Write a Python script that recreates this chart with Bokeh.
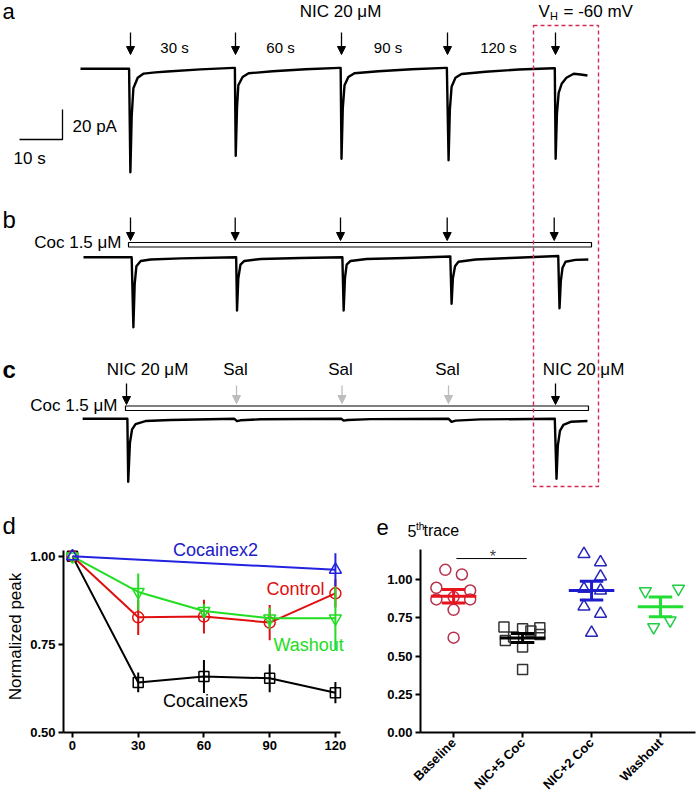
import math
import numpy as np
from bokeh.plotting import figure
from bokeh.models import Range1d, Arrow, NormalHead, Label, FixedTicker, NumeralTickFormatter
from bokeh.layouts import column, row
from bokeh.embed import file_html
from bokeh.resources import INLINE
from bokeh.core.properties import value

FONT = "Liberation Sans"

# ---------------- data: whole-cell traces (time s, current pA) ----------------
trace_a_t = [0.0, 11.3, 11.6, 11.9, 12.3, 13.3, 14.7, 17.4, 20.2, 27.9, 35.6,
             35.9, 36.1, 36.4, 36.7, 37.7, 39.1, 44.7, 52.3, 60.2,
             60.5, 60.7, 61.0, 61.4, 62.3, 63.7, 69.3, 77.0, 84.9,
             85.2, 85.6, 85.9, 86.3, 87.2, 88.6, 94.2, 101.9, 110.0,
             110.3, 110.5, 110.8, 111.2, 111.9, 113.0, 114.7, 116.3, 117.9]
trace_a_i = [0, 0, -69, -32, -13, -6, -3.2, -2.4, -1.8, -0.4, 0.6,
             0.6, -58, -26, -11, -5.5, -3, -1.6, -0.3, 0.6,
             0.6, -60, -26, -11, -5.5, -3, -1.6, -0.3, 0.6,
             0.6, -61, -27, -12, -6, -3.5, -2, -0.5, 0.4,
             0.4, -60, -30, -16, -10, -6, -3.3, -3.8, -4.5]

trace_b_t = [0.7, 11.9, 12.3, 12.6, 13.0, 14.0, 16.3, 23.3,
             36.2, 36.4, 36.7, 37.2, 38.1, 41.9, 51.2,
             60.9, 61.2, 61.5, 61.9, 62.8, 66.5, 75.6,
             86.0, 86.3, 86.6, 87.1, 87.9, 91.9, 100.0,
             111.1, 111.4, 111.7, 112.1, 112.8, 115.1, 118.1]
trace_b_i = [0, 0, -46.7, -18, -6, -2.5, -1.5, -0.8,
             0, -35.5, -14, -5, -2.5, -1.2, -0.5,
             0, -35.5, -14, -5, -2.5, -1.2, -0.5,
             0.5, -31, -14, -6, -3, -1.5, -0.5,
             0.8, -34, -16, -7, -3, -1.8, -1.5]

trace_c_t = [0.5, 10.9, 11.1, 11.5, 12.0, 12.8, 15.1, 20.9,
             35.8, 36.4, 37.2, 41.9,
             60.7, 61.2, 62.1, 67.4,
             85.6, 86.3, 87.2, 93.0,
             110.3, 110.7, 111.0, 111.5, 112.3, 114.0, 117.9]
trace_c_i = [0, 0, -42, -16, -7, -3.5, -1.5, -0.8,
             0, -1.5, -1.0, -0.3,
             0, -1.2, -0.8, -0.2,
             0, -2, -1.2, -0.4,
             0, -40, -18, -8, -4, -2, -1.5]

scale_time_s = 10
scale_current_pA = 20
interval_labels = ["30 s", "60 s", "90 s", "120 s"]

# ---------------- data: panel d ----------------
d_time = [0, 30, 60, 90, 120]
control_mean = [1.0, 0.827, 0.829, 0.812, 0.895]
control_err = [0.0, 0.05, 0.048, 0.05, 0.04]
washout_mean = [1.0, 0.899, 0.845, 0.824, 0.824]
washout_err = [0.0, 0.052, 0.02, 0.03, 0.09]
coc5_mean = [1.0, 0.642, 0.659, 0.654, 0.613]
coc5_err = [0.0, 0.028, 0.047, 0.04, 0.03]
coc2_time = [0, 120]
coc2_mean = [1.0, 0.962]
coc2_err = [0.0, 0.047]

# ---------------- data: panel e ----------------
e_categories = ["Baseline", "NIC+5 Coc", "NIC+2 Coc", "Washout"]
baseline_vals = [1.063, 1.033, 0.946, 0.928, 0.870, 0.870, 0.885, 0.802, 0.620]
baseline_jit = [-0.12, 0.12, -0.25, 0.24, -0.25, 0.24, 0.0, 0.0, 0.0]
nic5_vals = [0.689, 0.678, 0.685, 0.663, 0.602, 0.624, 0.641, 0.559, 0.411]
nic5_jit = [-0.27, 0.0, 0.25, 0.12, -0.25, -0.13, 0.25, 0.0, 0.0]
nic2_vals = [1.167, 1.113, 1.020, 0.939, 0.928, 0.824, 0.776, 0.652]
nic2_jit = [-0.11, 0.13, 0.13, -0.11, 0.13, -0.11, 0.13, 0.0]
wash_vals = [0.924, 0.940, 0.733, 0.689]
wash_jit = [-0.22, 0.26, 0.14, -0.10]

# ============================ top panel (a, b, c) ============================
PX_PER_S = 4.3
PX_PER_PA = 1.5
X0 = 80.0
TOP_H = 540


def X(px):
    return (px - X0) / PX_PER_S


def Y(py):
    return -py / PX_PER_PA


top = figure(width=697, height=TOP_H, x_range=Range1d(X(0), X(697)), y_range=Range1d(Y(TOP_H), Y(0)),
             output_backend="svg", toolbar_location=None, min_border=0,
             x_axis_location=None, y_axis_location=None)
top.grid.visible = False
top.outline_line_color = None
top.background_fill_color = "white"

BASE_A, BASE_B, BASE_C = Y(68.3), Y(256.7), Y(418.3)
for tt, ii, base in [(trace_a_t, trace_a_i, BASE_A), (trace_b_t, trace_b_i, BASE_B),
                     (trace_c_t, trace_c_i, BASE_C)]:
    top.line(np.array(tt), base + np.array(ii), line_color="black", line_width=2.4, line_join="round")

# scale bar
sx, sy = X(19), Y(139)
top.line([sx, sx + scale_time_s, sx + scale_time_s], [sy, sy, sy + scale_current_pA],
         line_color="black", line_width=1.3)

# bars (cocaine application)
top.quad(left=X(128), right=X(591), top=Y(242), bottom=Y(246.5), fill_color="white",
         line_color="black", line_width=1.2)
top.quad(left=X(125), right=X(588), top=Y(405.5), bottom=Y(410), fill_color="white",
         line_color="black", line_width=1.2)

# dashed red box
top.quad(left=X(533), right=X(598), top=Y(25), bottom=Y(486), fill_color=None,
         line_color="#D42A55", line_dash="4 3", line_width=1.4)


def arrow(px, y0, y1, color="black"):
    top.add_layout(Arrow(end=NormalHead(size=8, fill_color=color, line_color=color, line_width=1),
                         x_start=X(px), y_start=Y(y0), x_end=X(px), y_end=Y(y1),
                         line_color=color, line_width=1.3))


for px in [130, 235, 341, 447, 555]:
    arrow(px, 32, 54)
for px in [130, 234.7, 340, 446.7, 553.7]:
    arrow(px, 217, 240)
arrow(126, 383, 404)
arrow(555, 383, 404)
for px in [236, 341.5, 448]:
    arrow(px, 385, 403, "#BDBDBD")


def txt(px, py, s, size=16, align="left", color="black", style="normal"):
    # py is the reference baseline; place the em-box middle 0.35 em above it
    top.text(x=[X(px)], y=[Y(py - 0.35 * size)], text=[s], text_font=value(FONT),
             text_font_size=f"{size}px", text_align=align, text_baseline="middle",
             text_color=color, text_font_style=style)


txt(2, 19, "a", 22)
txt(2, 227, "b", 24)
txt(2, 377, "c", 24, style="bold")
txt(2, 533, "d", 24)
txt(376, 535, "e", 22)
txt(407, 536, "5", 16)
txt(415.5, 529, "th", 10)
txt(423, 536, "trace", 16)
txt(340, 16.5, "NIC 20 μM", 17, "center")
txt(538, 16.5, "V", 17)
txt(549.5, 19.5, "H", 11)
txt(563, 16.5, "= -60 mV", 17)
for cx, s in zip([174, 280, 387.5, 498], interval_labels):
    txt(cx, 52, s, 15, "center")
txt(72, 132, f"{scale_current_pA} pA", 17)
txt(13, 164, f"{scale_time_s} s", 17)
txt(121, 248, "Coc 1.5 μM", 17, "right")
txt(147, 375, "NIC 20 μM", 17, "center")
for cx in [235, 340, 447]:
    txt(cx, 375, "Sal", 17, "center")
txt(583, 375, "NIC 20 μM", 17, "center")
txt(117, 411, "Coc 1.5 μM", 17, "right")


# ============================ panel d ============================
def style_axes(p):
    p.grid.visible = False
    p.outline_line_color = None
    for ax in p.axis:
        ax.axis_line_width = 2
        ax.axis_line_color = "black"
        ax.major_tick_line_width = 2
        ax.major_tick_out = 5
        ax.major_tick_in = 0
        ax.minor_tick_line_color = None
        ax.major_label_text_font = FONT
        ax.major_label_text_font_style = "bold"
        ax.major_label_text_font_size = "13px"
        ax.major_label_text_color = "black"
        ax.major_label_standoff = 3


BOT_H = 260
d = figure(width=360, height=BOT_H, x_range=Range1d(-4.1, 127.8), y_range=Range1d(0.5, 1.045),
           output_backend="svg", toolbar_location=None,
           min_border_left=63, min_border_right=8, min_border_top=0, min_border_bottom=BOT_H - 193)
style_axes(d)
d.xaxis.ticker = FixedTicker(ticks=d_time)
d.xaxis.bounds = (-4.1, 122.3)
d.yaxis.bounds = (0.5, 1.017)
d.yaxis.ticker = FixedTicker(ticks=[0.5, 0.75, 1.0])
d.yaxis.formatter = NumeralTickFormatter(format="0.00")
d.yaxis.axis_label = "Normalized peak"
d.yaxis.axis_label_text_font = FONT
d.yaxis.axis_label_text_font_style = "normal"
d.yaxis.axis_label_text_font_size = "17px"
d.yaxis.axis_label_text_color = "black"
d.yaxis.axis_label_standoff = 2

series = [
    (d_time, coc5_mean, coc5_err, "black", "square", 10),
    (d_time, control_mean, control_err, "#E01010", "circle", 11),
    (d_time, washout_mean, washout_err, "#22DD22", "inverted_triangle", 12),
    (coc2_time, coc2_mean, coc2_err, "#2222E0", "triangle", 12),
]
for tt, mm, ee, col, mk, sz in series:
    tt, mm, ee = np.array(tt), np.array(mm), np.array(ee)
    d.segment(x0=tt, y0=mm - ee, x1=tt, y1=mm + ee, line_color=col, line_width=2)
    d.line(tt, mm, line_color=col, line_width=2)
    d.scatter(tt, mm, marker=mk, size=sz, fill_color=None, line_color=col, line_width=1.5)

for s, xx, yy, col in [("Cocainex2", 65.3, 1.019, "#2020C8"), ("Control", 101.8, 0.907, "#E01010"),
                       ("Washout", 107.8, 0.749, "#22DD22"), ("Cocainex5", 60.7, 0.590, "black")]:
    d.add_layout(Label(x=xx, y=yy, text=s, text_font=FONT, text_font_size="18px", text_color=col,
                       text_align="center", text_baseline="middle"))

# ============================ panel e ============================
e = figure(width=337, height=BOT_H, x_range=Range1d(0.52, 4.507), y_range=Range1d(0, 1.255),
           output_backend="svg", toolbar_location=None,
           min_border_left=60, min_border_right=2, min_border_top=0, min_border_bottom=BOT_H - 192)
style_axes(e)
e.xaxis.ticker = FixedTicker(ticks=[1, 2, 3, 4])
e.xaxis.major_label_overrides = {i + 1: c for i, c in enumerate(e_categories)}
e.xaxis.major_label_orientation = math.pi / 4
e.yaxis.ticker = FixedTicker(ticks=[0, 0.25, 0.5, 0.75, 1.0])
e.yaxis.formatter = NumeralTickFormatter(format="0.00")
e.yaxis.bounds = (0, 1.196)

groups = [
    (baseline_vals, baseline_jit, "#B8304C", "#E8141E", "circle", 11),
    (nic5_vals, nic5_jit, "#333333", "black", "square", 10),
    (nic2_vals, nic2_jit, "#2828B8", "#1C1CCC", "triangle", 12),
    (wash_vals, wash_jit, "#22CC44", "#22DD33", "inverted_triangle", 12),
]
for k, (vals, jit, mcol, lcol, mk, sz) in enumerate(groups):
    pos = k + 1
    v = np.array(vals)
    mean = v.mean()
    sem = v.std(ddof=1) / math.sqrt(len(v))
    e.scatter(pos + np.array(jit), v, marker=mk, size=sz, fill_color=None, line_color=mcol, line_width=1.5)
    e.segment(x0=[pos - 0.33], x1=[pos + 0.33], y0=[mean], y1=[mean], line_color=lcol, line_width=3)
    e.segment(x0=[pos - 0.17, pos - 0.17], x1=[pos + 0.17, pos + 0.17],
              y0=[mean - sem, mean + sem], y1=[mean - sem, mean + sem], line_color=lcol, line_width=3)
    e.segment(x0=[pos], x1=[pos], y0=[mean - sem], y1=[mean + sem], line_color=lcol, line_width=3)

e.line([1.04, 2.06], [1.137, 1.137], line_color="black", line_width=1)
e.add_layout(Label(x=1.57, y=1.15, text="*", text_font=FONT, text_font_size="16px",
                   text_align="center", text_baseline="alphabetic"))

layout = column(top, row(d, e))
open("out.html", "w").write(file_html(layout, INLINE))
